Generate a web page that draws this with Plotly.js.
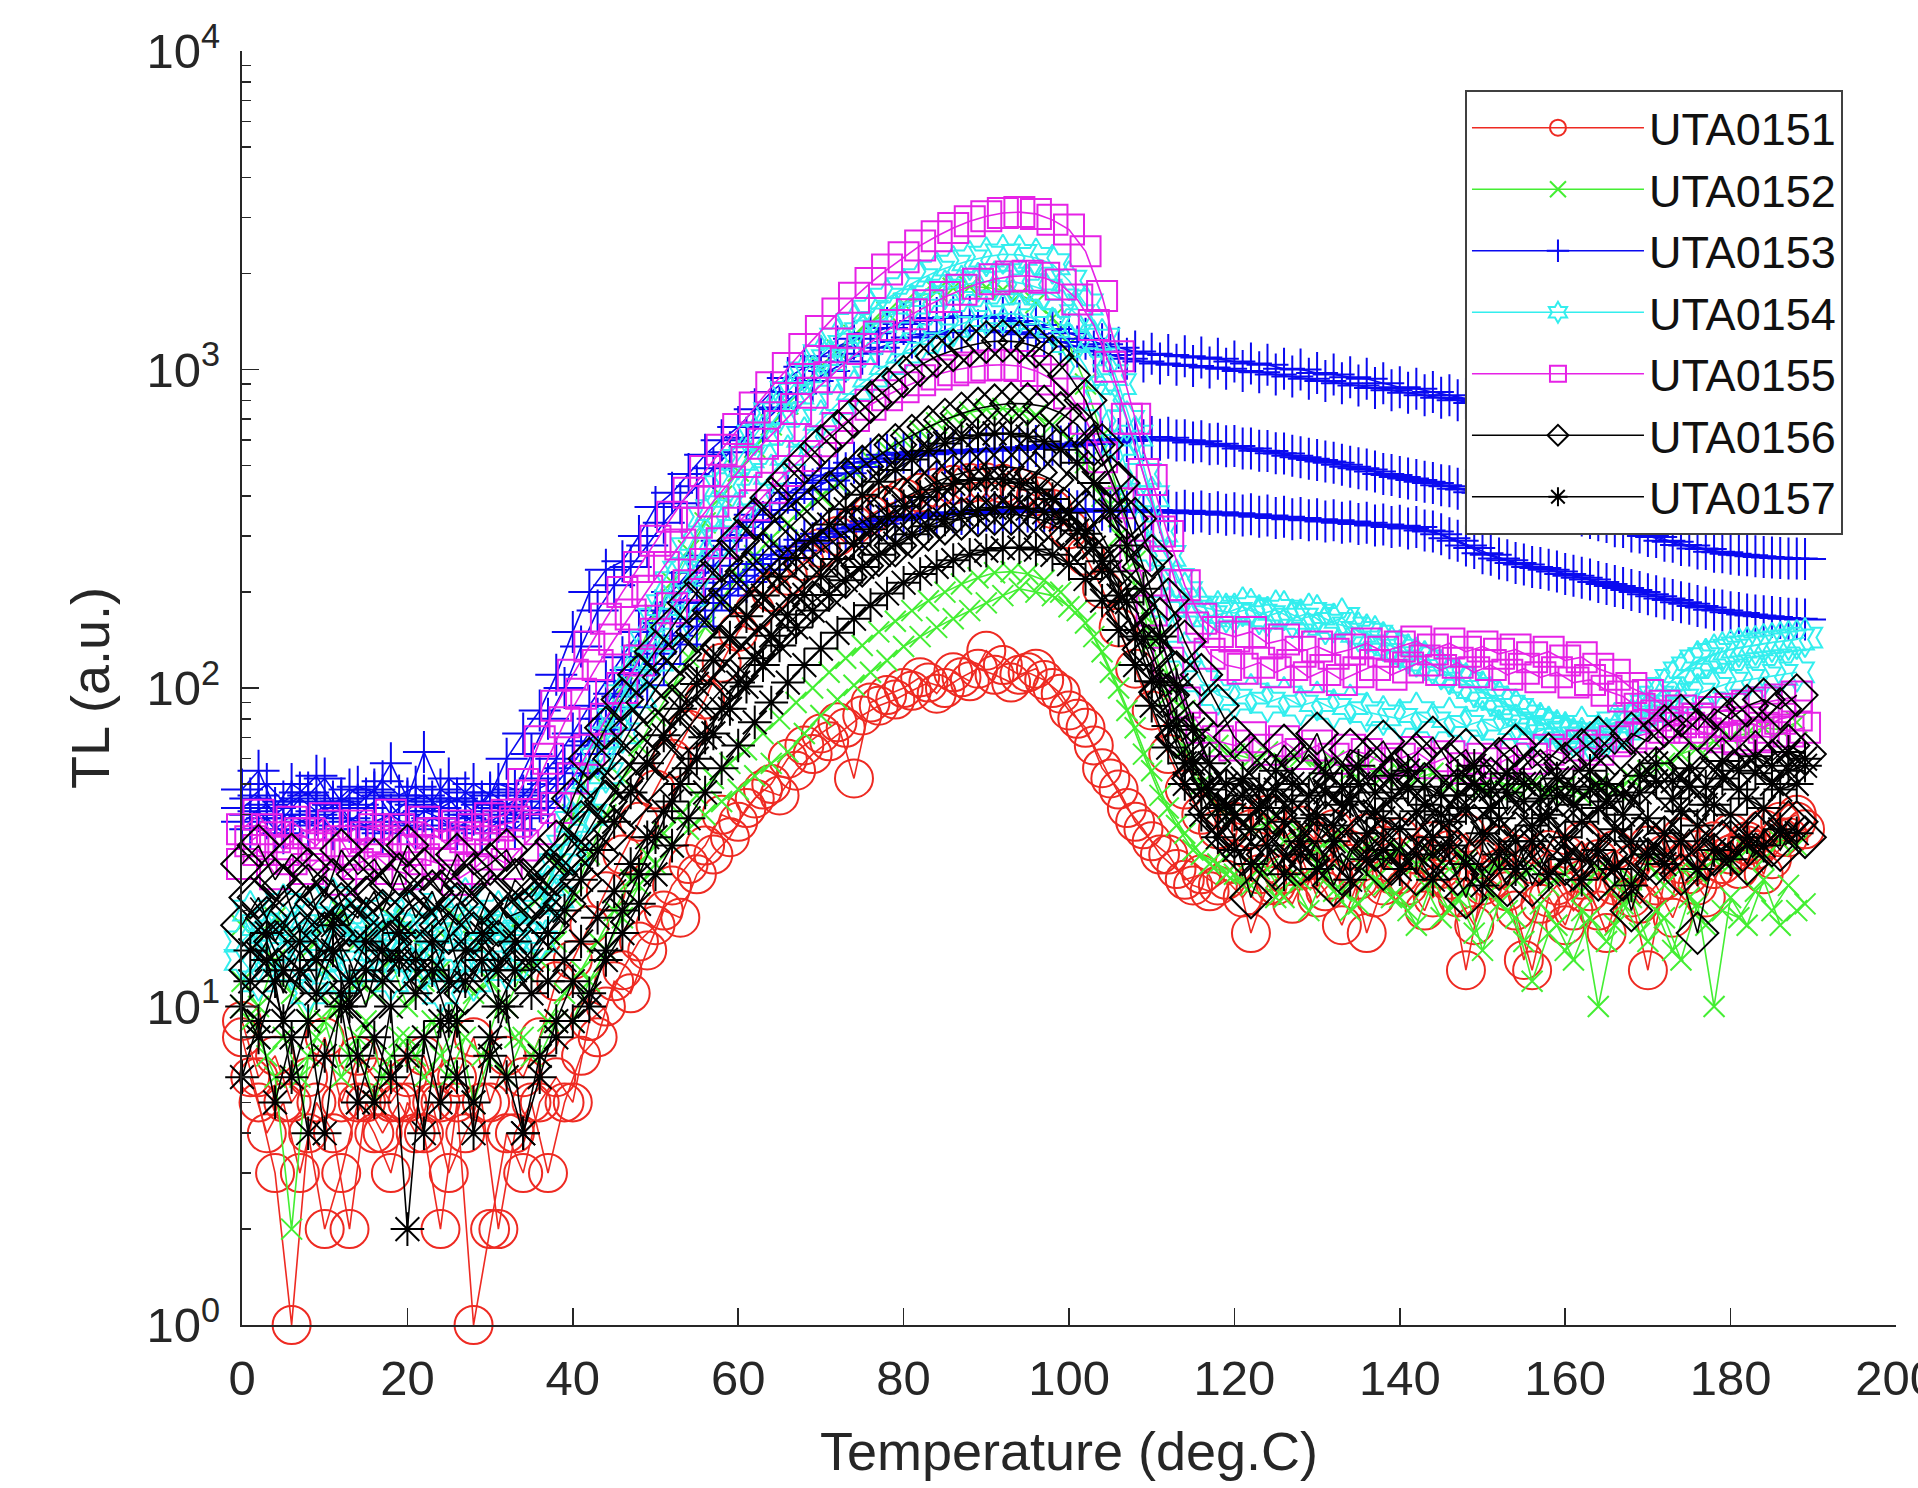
<!DOCTYPE html>
<html>
<head>
<meta charset="utf-8">
<script src="https://cdn.plot.ly/plotly-3.0.1.min.js"></script>
<style>html,body{margin:0;padding:0;background:#fff;}#chart{width:1918px;height:1488px;}</style>
</head>
<body>
<div id="chart"></div>
<script>
// Temperature grids (deg.C): even and odd readings
const tempsEven = [0,2,4,6,8,10,12,14,16,18,
 20,22,24,26,28,30,32,34,36,38,
 40,42,44,46,48,50,52,54,56,58,
 60,62,64,66,68,70,72,74,76,78,
 80,82,84,86,88,90,92,94,96,98,
 100,102,104,106,108,110,112,114,116,118,
 120,122,124,126,128,130,132,134,136,138,
 140,142,144,146,148,150,152,154,156,158,
 160,162,164,166,168,170,172,174,176,178,
 180,182,184,186,188];
const tempsOdd = [1,3,5,7,9,11,13,15,17,19,
 21,23,25,27,29,31,33,35,37,39,
 41,43,45,47,49,51,53,55,57,59,
 61,63,65,67,69,71,73,75,77,79,
 81,83,85,87,89,91,93,95,97,99,
 101,103,105,107,109,111,113,115,117,119,
 121,123,125,127,129,131,133,135,137,139,
 141,143,145,147,149,151,153,155,157,159,
 161,163,165,167,169,171,173,175,177,179,
 181,183,185,187,189];

// ---------- UTA0151 ----------
const uta0151_a = [8,5,3,1,4,2,3,5,4,3,
 5,4,2,5,1,2,4,3,5,6,
 5,9,10,13,16,18,24,28,32,40,
 38,45,50,60,66,72,78,52,90,95,
 100,108,96,112,105,131,118,110,115,100,
 85,75,56,48,38,33,30,25,26,24,
 28,17,24,26,30,22,25,28,17,24,
 26,30,22,25,13,24,27,20,13,22,
 18,25,20,24,22,13,25,28,24,27,
 30,33,26,38,40];
const uta0151_b = [9,6,7,5,6,8,5,7,6,5,
 6,7,5,6,8,5,7,6,8,12,
 14,18,23,30,38,48,60,74,92,120,
 150,175,200,225,250,275,300,325,350,375,
 395,410,425,435,440,442,438,425,400,365,
 315,260,205,155,115,85,62,48,40,36,
 38,36,40,34,37,33,36,31,35,32,
 34,30,33,31,35,29,32,30,28,31,
 30,33,29,31,28,32,30,34,31,33,
 35,32,36,34,38];
const uta0151_c = [6,4,5,3,5,4,2,5,4,5,
 4,5,3,4,5,2,4,5,3,5,
 7,8,12,11,15,20,19,26,30,34,
 42,48,46,55,62,68,75,82,88,92,
 98,104,100,108,115,110,104,112,106,96,
 80,66,52,42,36,30,27,24,23,25,
 22,26,24,21,27,23,18,25,22,26,
 24,20,27,22,18,25,23,14,21,24,
 20,23,17,25,21,24,19,26,22,28,
 27,31,29,34,36];

// ---------- UTA0152 ----------
const uta0152_a = [10,8,6,2,7,9,6,8,5,7,
 8,6,7,9,5,7,6,8,7,9,
 9,12,15,19,24,28,32,36,40,44,
 48,53,58,63,72,82,92,102,112,122,
 135,145,155,165,175,185,195,205,200,195,
 180,160,130,100,75,55,42,35,30,28,
 26,24,27,22,25,28,23,20,26,24,
 22,18,25,20,23,15,21,19,12,17,
 15,20,10,18,22,16,19,14,21,10,
 22,18,25,18,20];
const uta0152_b = [12,10,14,11,9,13,10,12,11,14,
 10,12,13,9,11,12,10,13,14,16,
 22,30,40,52,66,82,100,125,155,190,
 225,260,295,330,365,400,440,480,520,560,
 600,640,680,710,735,750,755,745,720,670,
 600,510,400,300,210,140,95,65,50,42,
 40,36,38,33,35,31,34,30,32,29,
 31,28,30,27,29,26,28,25,27,24,
 26,23,27,24,25,28,24,27,26,29,
 28,31,29,33,32];
const uta0152_c = [18,16,19,17,15,18,20,16,17,19,
 18,15,17,19,16,18,17,20,22,28,
 40,55,75,100,130,170,215,270,330,400,
 480,570,670,780,900,1020,1150,1280,1400,1510,
 1610,1700,1760,1800,1820,1810,1780,1720,1620,1450,
 1200,900,620,400,250,160,110,85,72,66,
 62,60,63,58,61,56,59,55,57,53,
 55,52,54,50,53,49,51,48,50,47,
 49,46,50,48,52,55,58,62,65,68,
 70,72,75,74,78];
const uta0152_d = [9,7,8,6,8,10,7,9,6,8,
 7,9,6,8,7,10,8,7,9,11,
 13,16,20,25,30,35,40,46,52,58,
 64,72,80,90,100,112,124,136,150,162,
 175,188,200,212,222,230,232,228,218,200,
 175,145,112,85,62,46,37,31,28,26,
 24,27,22,25,20,26,23,21,25,22,
 20,24,19,22,17,23,20,16,21,18,
 14,19,16,21,17,20,15,22,18,20,
 19,23,20,24,21];

// ---------- UTA0153 ----------
const uta0153_a = [48,55,42,50,46,52,44,49,47,58,
 45,63,48,44,50,46,60,72,85,110,
 150,200,235,250,300,370,410,470,540,600,
 660,750,850,940,1020,1100,1180,1250,1300,1350,
 1390,1420,1450,1460,1470,1465,1450,1420,1380,1340,
 1300,1250,1200,1170,1140,1120,1110,1100,1090,1080,
 1060,1045,1035,1005,1000,975,965,945,935,905,
 880,870,850,830,810,800,790,780,760,750,
 730,720,700,690,670,660,640,630,610,600,
 590,580,570,560,550];
const uta0153_b = [42,46,40,44,47,41,45,43,48,40,
 44,46,42,45,41,47,43,46,52,60,
 72,88,105,125,150,175,200,230,260,290,
 320,350,380,410,440,465,490,510,525,540,
 548,552,555,558,560,562,565,570,575,580,
 585,590,600,605,610,614,610,600,595,585,
 575,565,555,545,530,520,510,495,485,470,
 460,450,440,430,420,410,400,390,380,370,
 360,348,336,322,310,300,290,281,274,268,
 264,261,258,256,255];
const uta0153_c = [38,41,36,40,37,39,42,36,38,40,
 37,41,39,36,40,38,41,39,44,50,
 58,68,80,94,110,128,146,165,185,205,
 225,245,262,278,292,305,316,326,334,340,
 346,350,354,356,358,360,361,362,362,363,
 364,364,363,363,362,362,361,360,358,356,
 354,351,348,345,342,339,336,333,330,326,
 323,320,310,295,280,265,255,247,240,235,
 228,222,215,209,203,197,191,186,181,176,
 173,170,168,166,165];
const uta0153_d = [45,50,44,47,53,43,48,45,51,46,
 49,44,52,47,43,50,48,62,80,100,
 135,175,210,240,280,330,380,430,490,550,
 610,680,760,840,920,990,1060,1120,1170,1220,
 1260,1290,1310,1320,1325,1320,1310,1290,1260,1220,
 1180,1140,1110,1080,1060,1045,1035,1025,1015,1005,
 990,980,965,950,935,920,905,890,875,860,
 845,830,815,800,785,770,755,740,725,710,
 695,680,665,650,640,625,610,600,590,580,
 570,560,550,540,530];
const uta0153_e = [40,43,39,45,41,44,38,42,46,40,
 43,41,45,39,44,42,40,47,50,56,
 66,80,96,114,136,160,186,214,242,272,
 302,332,362,392,420,448,472,494,512,526,
 536,542,546,550,553,556,559,563,568,573,
 578,584,590,596,600,602,598,590,582,574,
 565,556,546,536,525,514,502,490,478,466,
 455,444,433,422,412,402,392,382,372,362,
 352,342,332,320,308,298,288,280,273,267,
 262,259,257,255,254];
const uta0153_f = [36,39,35,38,40,36,39,37,35,38,
 36,39,37,40,35,38,36,40,42,47,
 54,62,74,87,102,119,137,156,175,195,
 215,235,254,270,285,298,310,320,328,336,
 342,346,350,352,354,356,357,358,358,359,
 359,359,358,358,357,356,355,354,352,350,
 348,345,342,339,336,333,330,327,324,320,
 317,312,304,290,275,262,252,244,238,232,
 225,219,212,206,200,194,189,184,179,175,
 172,169,167,165,164];

// ---------- UTA0154 ----------
const uta0154_a = [16,18,15,17,19,14,16,18,15,17,
 16,14,18,15,17,16,18,17,20,28,
 38,52,70,95,125,165,215,275,345,430,
 520,620,730,850,980,1110,1250,1390,1530,1670,
 1800,1920,2030,2120,2200,2260,2300,2290,2240,2140,
 1900,1600,1250,900,620,400,260,200,180,175,
 172,178,168,175,165,170,160,155,148,140,
 132,125,118,110,104,98,92,86,80,76,
 72,70,69,72,78,88,100,112,122,128,
 132,135,138,140,142];
const uta0154_b = [14,12,15,13,11,14,12,13,15,12,
 14,13,11,14,12,15,13,14,16,22,
 30,40,54,72,94,122,155,195,240,290,
 345,405,470,540,615,695,780,865,950,1040,
 1130,1210,1290,1360,1420,1470,1500,1490,1440,1360,
 1220,1020,800,580,400,270,180,130,105,95,
 92,96,90,94,88,91,86,89,84,82,
 80,84,78,81,76,79,74,77,72,75,
 73,76,72,78,80,84,88,92,96,100,
 104,106,108,110,112];
const uta0154_c = [20,17,21,18,16,22,19,17,20,18,
 21,17,19,22,18,20,17,21,24,32,
 44,60,80,108,140,182,232,292,362,440,
 530,625,730,840,955,1070,1185,1300,1410,1510,
 1610,1700,1780,1840,1880,1900,1890,1850,1780,1660,
 1480,1240,960,690,470,310,220,180,168,172,
 180,170,176,165,172,158,166,150,146,136,
 128,122,114,108,100,94,88,82,78,74,
 70,68,70,74,82,94,106,116,124,130,
 134,136,139,141,144];

// ---------- UTA0155 ----------
const uta0155_a = [36,40,34,38,35,39,33,37,36,40,
 34,38,35,37,36,39,40,50,68,88,
 110,135,165,200,240,290,345,410,480,560,
 650,760,880,1010,1160,1320,1500,1680,1870,2060,
 2250,2450,2620,2780,2920,3030,3100,3120,3080,2950,
 2750,2350,1700,1100,700,450,300,210,165,150,
 145,150,138,142,130,135,128,132,138,130,
 135,140,132,138,130,135,128,132,125,130,
 122,125,115,110,100,95,88,85,80,78,
 76,78,75,80,82];
const uta0155_b = [28,31,26,29,27,30,25,28,30,27,
 26,29,28,25,27,30,28,32,36,42,
 52,64,80,100,122,148,178,210,245,285,
 330,375,425,480,535,595,655,715,775,830,
 880,925,965,995,1015,1030,1035,1025,990,930,
 840,700,530,380,260,175,120,90,75,68,
 66,70,64,68,62,66,60,64,62,58,
 60,63,58,61,56,60,58,62,60,64,
 62,66,64,68,70,72,75,78,80,84,
 86,88,90,92,94];
const uta0155_c = [33,36,31,35,32,37,30,34,33,36,
 31,35,32,34,33,37,38,46,60,78,
 96,118,142,170,202,240,282,330,385,445,
 512,585,665,752,846,945,1050,1160,1270,1380,
 1490,1590,1690,1780,1860,1920,1960,1970,1940,1850,
 1660,1380,1020,700,470,310,210,155,128,118,
 115,120,112,118,108,114,106,112,118,110,
 116,122,114,120,112,118,110,115,108,112,
 104,106,98,94,86,82,78,75,72,70,
 69,71,70,73,75];

// ---------- UTA0156 ----------
const uta0156_a = [28,32,25,30,27,22,31,26,29,24,
 32,27,23,30,26,28,31,25,29,33,
 45,60,75,92,110,130,155,185,215,250,
 290,340,395,450,510,575,640,710,790,870,
 950,1030,1100,1150,1190,1220,1230,1220,1180,1100,
 960,800,580,440,340,260,190,140,110,88,
 70,62,55,66,58,72,52,64,60,68,
 56,62,70,58,64,52,60,66,56,62,
 58,64,70,62,72,68,76,82,74,86,
 80,88,92,86,95];
const uta0156_b = [18,22,16,20,24,17,21,19,23,16,
 20,22,18,21,17,23,19,20,22,26,
 30,36,44,52,62,74,88,102,118,135,
 155,175,198,220,245,270,295,320,345,370,
 395,420,445,465,480,490,495,490,475,450,
 410,360,300,240,180,130,95,70,52,40,
 34,22,30,36,28,33,24,31,35,27,
 32,26,34,29,22,31,27,35,24,30,
 28,33,25,31,20,29,34,26,17,30,
 33,28,36,31,38];
const uta0156_c = [22,19,24,17,21,25,18,22,20,26,
 19,23,17,24,21,18,25,22,26,30,
 38,48,60,74,90,108,128,150,175,202,
 232,264,298,334,372,412,454,496,538,580,
 620,660,696,728,754,772,782,780,765,730,
 670,580,460,340,240,165,112,78,58,48,
 44,50,40,47,53,42,49,38,46,52,
 43,50,37,48,44,52,40,47,55,42,
 49,45,53,41,50,56,47,58,52,60,
 56,63,59,66,62];
const uta0156_d = [13,16,11,15,12,17,14,10,16,13,
 15,12,17,11,14,16,13,15,18,21,
 25,30,36,43,51,60,70,81,93,106,
 120,135,151,168,186,204,223,242,261,280,
 298,314,328,340,348,352,352,346,335,316,
 290,256,215,172,132,97,70,52,41,34,
 30,36,27,33,29,38,26,34,31,28,
 35,29,33,26,37,30,24,32,28,36,
 27,33,30,25,34,28,31,36,29,33,
 30,35,32,38,34];

// ---------- UTA0157 ----------
const uta0157_a = [10,8,12,6,9,4,11,7,5,10,
 2,8,5,9,4,7,10,4,6,9,
 12,10,15,20,26,34,44,56,70,86,
 104,124,146,170,196,224,254,285,315,345,
 372,398,420,438,450,455,452,440,420,392,
 355,305,250,195,145,105,76,58,48,42,
 40,36,42,38,33,40,37,44,35,39,
 36,41,34,38,42,35,39,33,37,40,
 34,38,42,36,33,39,35,41,37,43,
 40,45,42,48,50];
const uta0157_b = [6,9,5,8,4,7,10,5,8,6,
 7,4,9,6,5,8,6,4,7,8,
 9,11,14,17,21,26,32,39,47,56,
 66,78,90,104,118,133,149,165,182,198,
 214,228,240,252,262,270,275,276,272,262,
 245,220,188,152,118,88,65,50,40,34,
 31,28,32,26,30,27,33,25,29,31,
 27,30,25,32,28,24,30,27,33,26,
 29,25,31,27,24,30,28,33,27,31,
 29,34,32,36,35];
const uta0157_c = [12,14,9,13,11,15,10,13,12,14,
 11,13,9,12,14,10,13,11,12,14,
 16,19,23,28,34,41,50,60,72,86,
 101,118,136,155,175,196,218,240,262,284,
 304,322,338,352,362,368,370,366,356,338,
 312,276,232,186,142,104,76,58,48,43,
 46,42,48,44,39,47,43,50,41,45,
 48,43,40,46,50,42,47,44,39,46,
 43,48,44,40,47,51,45,49,43,52,
 48,54,50,55,57];
const uta0157_d = [15,17,13,16,14,18,12,16,15,17,
 14,16,12,15,17,13,16,14,17,20,
 25,31,38,47,58,71,86,103,122,144,
 168,195,224,256,290,326,364,404,444,484,
 522,556,586,608,622,630,628,616,594,560,
 510,440,360,280,205,145,102,74,58,50,
 52,48,55,50,46,54,49,57,47,53,
 55,49,46,53,57,48,54,50,45,52,
 49,55,50,46,53,58,51,56,49,59,
 55,61,57,63,60];

// Axis ticks
const xTickVals = [0,20,40,60,80,100,120,140,160,180,200];
const xTickText = ['0','20','40','60','80','100','120','140','160','180','200'];
const yTickVals = [1,10,100,1000,10000];
const yTickText = ['10<sup>0</sup>','10<sup>1</sup>','10<sup>2</sup>','10<sup>3</sup>','10<sup>4</sup>'];

const sampleNames = ['UTA0151','UTA0152','UTA0153','UTA0154','UTA0155','UTA0156','UTA0157'];
// each run: [temperature grid, TL values]
const sampleRuns = [
  [[tempsEven, uta0151_a], [tempsEven, uta0151_b], [tempsOdd, uta0151_c]],
  [[tempsEven, uta0152_a], [tempsEven, uta0152_b], [tempsEven, uta0152_c], [tempsOdd, uta0152_d]],
  [[tempsEven, uta0153_a], [tempsEven, uta0153_b], [tempsEven, uta0153_c], [tempsOdd, uta0153_d], [tempsOdd, uta0153_e], [tempsOdd, uta0153_f]],
  [[tempsEven, uta0154_a], [tempsEven, uta0154_b], [tempsOdd, uta0154_c]],
  [[tempsEven, uta0155_a], [tempsEven, uta0155_b], [tempsOdd, uta0155_c]],
  [[tempsEven, uta0156_a], [tempsEven, uta0156_b], [tempsOdd, uta0156_c], [tempsOdd, uta0156_d]],
  [[tempsEven, uta0157_a], [tempsEven, uta0157_b], [tempsOdd, uta0157_c], [tempsOdd, uta0157_d]]
];

// Styles (MATLAB-like r, g, b, c, m, k)
const styles = [
  {color:'#ee2a22', symbol:'circle-open', size:38},
  {color:'#44ee33', symbol:'x-thin-open', size:21},
  {color:'#0a0af0', symbol:'cross-thin-open', size:30},
  {color:'#33eeee', symbol:'hexagram-open', size:30},
  {color:'#e622e6', symbol:'square-open', size:30},
  {color:'#000000', symbol:'diamond-open', size:32},
  {color:'#000000', symbol:'asterisk-open', size:28}
];

const traces = [];
sampleNames.forEach(function(name, si){
  const st = styles[si];
  sampleRuns[si].forEach(function(run, ri){
    traces.push({
      type:'scatter', mode:'lines+markers',
      x: run[0], y: run[1],
      name: name, legendgroup: name, showlegend: ri === 0,
      cliponaxis: false,
      line:{color: st.color, width:1.6},
      marker:{symbol: st.symbol, size: st.size, color: st.color, line:{color: st.color, width:2}}
    });
  });
});

const axisColor = '#262626';
const layout = {
  width:1918, height:1488,
  margin:{l:242, r:22, t:51, b:163, pad:0},
  paper_bgcolor:'#ffffff', plot_bgcolor:'#ffffff',
  font:{family:'"Liberation Sans", Arial, Helvetica, sans-serif', color:axisColor},
  showlegend:true,
  legend:{
    x:0.7394, y:0.9694, xanchor:'left', yanchor:'top',
    bgcolor:'#ffffff', bordercolor:'#404040', borderwidth:2,
    font:{size:45, color:'#111111'},
    itemwidth:172, tracegroupgap:0
  },
  xaxis:{
    range:[0,200], tickmode:'array', tickvals:xTickVals, ticktext:xTickText,
    ticks:'inside', ticklen:17, tickwidth:1.5, tickcolor:axisColor,
    showline:true, linecolor:axisColor, linewidth:2, mirror:false,
    showgrid:false, zeroline:false, automargin:false,
    ticklabeloverflow:'allow',
    tickfont:{size:49, color:axisColor}, ticklabelstandoff:9,
    title:{text:'Temperature (deg.C)', font:{size:54, color:axisColor}, standoff:28}
  },
  yaxis:{
    type:'log', range:[0,4], tickmode:'array', tickvals:yTickVals, ticktext:yTickText,
    ticks:'inside', ticklen:17, tickwidth:1.5, tickcolor:axisColor,
    minor:{ticks:'inside', ticklen:9, tickwidth:1.5, tickcolor:axisColor, dtick:'D1', showgrid:false},
    showline:true, linecolor:axisColor, linewidth:2, mirror:false,
    showgrid:false, zeroline:false, automargin:false,
    tickfont:{size:49, color:axisColor}, ticklabelstandoff:10,
    title:{text:'TL (a.u.)', font:{size:54, color:axisColor}, standoff:20}
  }
};

Plotly.newPlot('chart', traces, layout, {staticPlot:true, displayModeBar:false});
</script>
</body>
</html>
